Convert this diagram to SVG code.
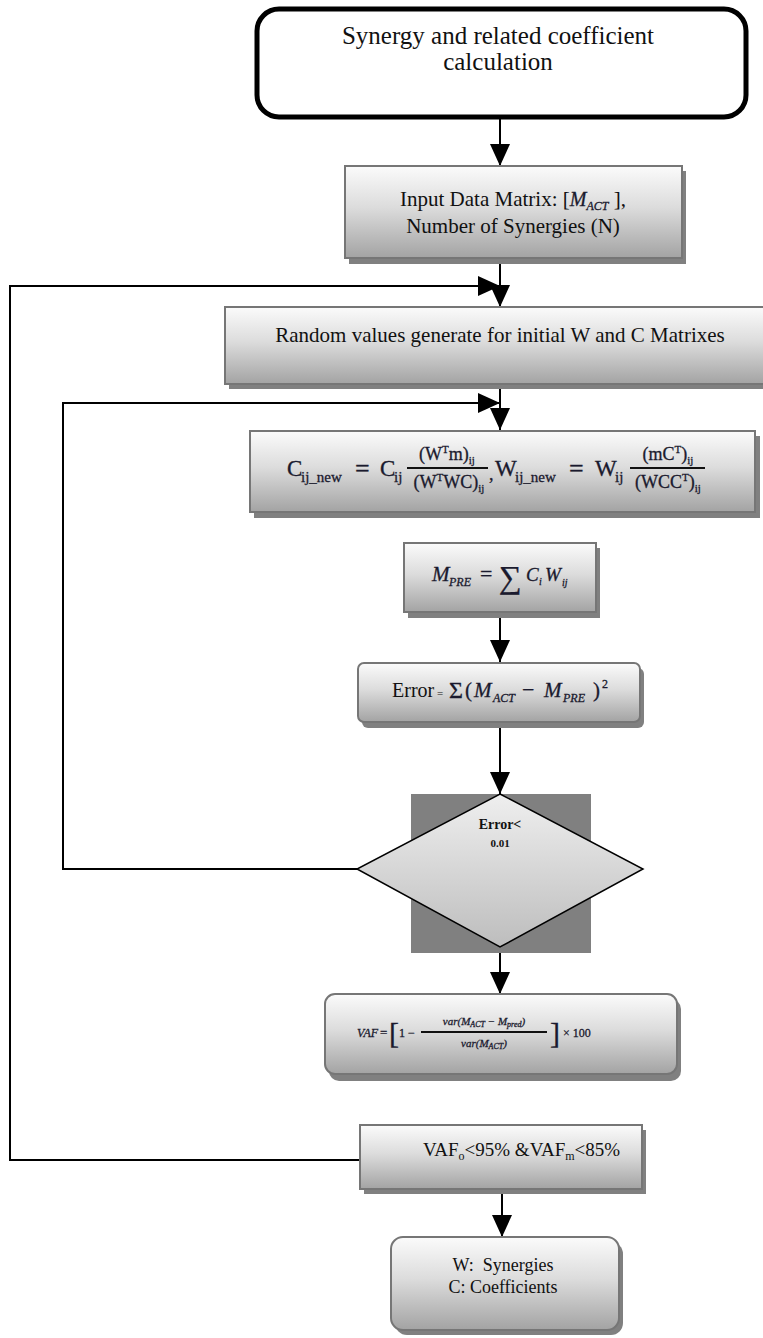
<svg xmlns="http://www.w3.org/2000/svg" width="763" height="1338" viewBox="0 0 763 1338">
<defs>
<linearGradient id="g" x1="0" y1="0" x2="0" y2="1"><stop offset="0" stop-color="#fbfbfb"/><stop offset="0.45" stop-color="#dcdcdc"/><stop offset="1" stop-color="#a3a3a3"/></linearGradient>
<linearGradient id="gd" x1="0" y1="0" x2="0" y2="1"><stop offset="0" stop-color="#efefef"/><stop offset="1" stop-color="#bdbdbd"/></linearGradient>
<marker id="ah" viewBox="0 0 22 20" refX="22" refY="10" markerWidth="22" markerHeight="20" markerUnits="userSpaceOnUse" orient="auto"><path d="M0,0 L22,10 L0,20 z" fill="#000"/></marker>
</defs>
<style>
.box{fill:url(#g);stroke:#767676;stroke-width:2}
.sh{fill:#808080}
.t{font-family:"Liberation Serif","Times New Roman",serif;fill:#111}
.m{font-family:"Liberation Serif","Times New Roman",serif;fill:#1a1a2e;stroke:#1a1a2e;stroke-width:0.3}
.i{font-style:italic}
.c{stroke:#000;stroke-width:2;fill:none}
.fb{stroke:#111;stroke-width:2}
</style>
<g id="connectors">
<path class="c" d="M500,118 V166" marker-end="url(#ah)"/>
<path class="c" d="M500,258 V307" marker-end="url(#ah)"/>
<path class="c" d="M360,1160 H10 V286 H500" marker-end="url(#ah)"/>
<path class="c" d="M500,384 V430" marker-end="url(#ah)"/>
<path class="c" d="M357,869 H63 V403 H500" marker-end="url(#ah)"/>
<path class="c" d="M500,612 V662" marker-end="url(#ah)"/>
<path class="c" d="M500,722 V794" marker-end="url(#ah)"/>
<path class="c" d="M500,947 V994" marker-end="url(#ah)"/>
<path class="c" d="M502,1190 V1237" marker-end="url(#ah)"/>
</g>
<g id="start">
<rect x="257" y="9" width="489" height="108" rx="22" fill="#fff" stroke="#000" stroke-width="5"/>
<text class="t" x="498" y="44" font-size="25" text-anchor="middle">Synergy and related coefficient</text>
<text class="t" x="498" y="70" font-size="25" text-anchor="middle">calculation</text>
</g>
<g id="input">
<rect class="sh" x="349" y="171" width="337" height="93"/>
<rect class="box" x="345" y="166" width="337" height="92"/>
<text class="t" x="513" y="206" font-size="21" text-anchor="middle">Input Data Matrix: [<tspan class="m i" font-size="20">M</tspan><tspan class="m i" font-size="12" dy="4">ACT</tspan><tspan dy="-4"> ],</tspan></text>
<text class="t" x="513" y="233" font-size="21" text-anchor="middle">Number of Synergies (N)</text>
</g>
<g id="random">
<rect class="sh" x="229" y="312" width="540" height="77"/>
<rect class="box" x="225" y="307" width="545" height="77"/>
<text class="t" x="500" y="342" font-size="21" text-anchor="middle">Random values generate for initial W and C Matrixes</text>
</g>
<g id="update">
<rect class="sh" x="254" y="436" width="506" height="82"/>
<rect class="box" x="250" y="431" width="505" height="81"/>
<text class="m" x="287" y="476" font-size="23">C</text>
<text class="m" x="301" y="482" font-size="15">ij_new</text>
<text class="m" x="355" y="477" font-size="26">=</text>
<text class="m" x="380" y="476" font-size="23">C</text>
<text class="m" x="394" y="482" font-size="15">ij</text>
<line class="fb" x1="407" y1="468" x2="488" y2="468"/>
<text class="m" x="447" y="460" font-size="18" text-anchor="middle">(W<tspan font-size="11" dy="-7">T</tspan><tspan dy="7">m)</tspan><tspan font-size="11" dy="4">ij</tspan></text>
<text class="m" x="449" y="488" font-size="18" text-anchor="middle">(W<tspan font-size="11" dy="-7">T</tspan><tspan dy="7">WC)</tspan><tspan font-size="11" dy="4">ij</tspan></text>
<text class="m" x="489" y="480" font-size="18">,</text>
<text class="m" x="495" y="476" font-size="23">W</text>
<text class="m" x="515" y="482" font-size="15">ij_new</text>
<text class="m" x="569" y="477" font-size="26">=</text>
<text class="m" x="595" y="476" font-size="23">W</text>
<text class="m" x="615" y="482" font-size="15">ij</text>
<line class="fb" x1="630" y1="468" x2="705" y2="468"/>
<text class="m" x="668" y="460" font-size="18" text-anchor="middle">(mC<tspan font-size="11" dy="-7">T</tspan><tspan dy="7">)</tspan><tspan font-size="11" dy="4">ij</tspan></text>
<text class="m" x="668" y="488" font-size="18" text-anchor="middle">(WCC<tspan font-size="11" dy="-7">T</tspan><tspan dy="7">)</tspan><tspan font-size="11" dy="4">ij</tspan></text>
</g>
<g id="mpre">
<rect class="sh" x="408" y="548" width="192" height="70"/>
<rect class="box" x="404" y="543" width="192" height="69"/>
<text class="m i" x="432" y="581" font-size="21">M</text>
<text class="m i" x="449" y="586" font-size="12">PRE</text>
<text class="m" x="480" y="581" font-size="22">=</text>
<text class="m" x="499" y="588" font-size="32">∑</text>
<text class="m i" x="526" y="581" font-size="19">C</text>
<text class="m i" x="539" y="585" font-size="10">i</text>
<text class="m i" x="545" y="581" font-size="19">W</text>
<text class="m i" x="562" y="586" font-size="10">ij</text>
</g>
<g id="error">
<rect class="sh" x="362" y="668" width="282" height="60" rx="6"/>
<rect class="box" x="358" y="663" width="282" height="59" rx="6"/>
<text class="t" x="392" y="697" font-size="20">Error</text>
<text class="t" x="437" y="697" font-size="11">=</text>
<text class="m" x="449" y="698" font-size="24">Σ</text>
<text class="m" x="465" y="697" font-size="21">(</text>
<text class="m i" x="474" y="697" font-size="21">M</text>
<text class="m i" x="493" y="702" font-size="12">ACT</text>
<text class="m" x="522" y="697" font-size="22">−</text>
<text class="m i" x="544" y="697" font-size="21">M</text>
<text class="m i" x="563" y="702" font-size="12">PRE</text>
<text class="m" x="593" y="697" font-size="21">)</text>
<text class="m" x="602" y="688" font-size="12">2</text>
</g>
<g id="decision">
<rect x="411" y="794" width="180" height="159" fill="#808080"/>
<path d="M500,794 L643,869 L500,947 L357,869 z" fill="url(#gd)" stroke="#000" stroke-width="1.5"/>
<text class="t" x="500" y="829" font-size="14" font-weight="bold" text-anchor="middle">Error&lt;</text>
<text class="t" x="500" y="847" font-size="11" font-weight="bold" text-anchor="middle">0.01</text>
</g>
<g id="vaf">
<rect class="sh" x="329" y="999" width="352" height="82" rx="10"/>
<rect class="box" x="325" y="994" width="352" height="80" rx="10"/>
<text class="m i" x="357" y="1037" font-size="12">VAF</text>
<text class="m" x="380" y="1037" font-size="13">=</text>
<text class="m" x="389" y="1043" font-size="30">[</text>
<text class="m" x="399" y="1037" font-size="12">1 −</text>
<line class="fb" x1="421" y1="1032" x2="547" y2="1032" stroke-width="1.3"/>
<text class="m i" x="484" y="1025" font-size="11" text-anchor="middle">var(M<tspan font-size="8" dy="2">ACT</tspan><tspan dy="-2"> − M</tspan><tspan font-size="8" dy="2">pred</tspan><tspan dy="-2">)</tspan></text>
<text class="m i" x="484" y="1047" font-size="11" text-anchor="middle">var(M<tspan font-size="8" dy="2">ACT</tspan><tspan dy="-2">)</tspan></text>
<text class="m" x="550" y="1043" font-size="30">]</text>
<text class="m" x="563" y="1037" font-size="12">× 100</text>
</g>
<g id="vafcheck">
<rect class="sh" x="364" y="1130" width="282" height="64"/>
<rect class="box" x="360" y="1125" width="282" height="64"/>
<text class="t" x="423" y="1156" font-size="19">VAF<tspan font-size="12" dy="4">o</tspan><tspan dy="-4">&lt;95% &amp;VAF</tspan><tspan font-size="12" dy="4">m</tspan><tspan dy="-4">&lt;85%</tspan></text>
</g>
<g id="result">
<rect class="sh" x="395" y="1242" width="228" height="93" rx="12"/>
<rect class="box" x="391" y="1237" width="228" height="93" rx="12"/>
<text class="t" x="503" y="1271" font-size="18" text-anchor="middle" xml:space="preserve">W:  Synergies</text>
<text class="t" x="503" y="1293" font-size="18" text-anchor="middle">C: Coefficients</text>
</g>
</svg>
